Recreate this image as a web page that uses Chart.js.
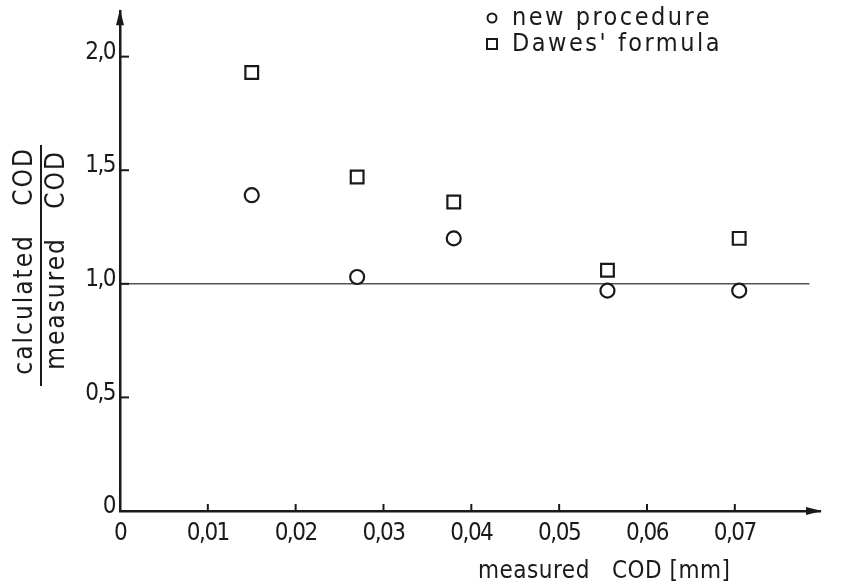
<!DOCTYPE html>
<html>
<head>
<meta charset="utf-8">
<title>calculated / measured COD</title>
<script src="https://cdn.jsdelivr.net/npm/chart.js@4.4.1/dist/chart.umd.min.js"></script>
<style>
  html, body { margin: 0; padding: 0; background: #fff; }
  #wrap { width: 843px; height: 588px; }
</style>
</head>
<body>
<div id="wrap"><canvas id="chart" width="843" height="588"></canvas></div>
<script>
// tick values and their labels (comma decimals as in the original)
var xTickValues = [0, 0.01, 0.02, 0.03, 0.04, 0.05, 0.06, 0.07];
var xTickLabels = ['0', '0,01', '0,02', '0,03', '0,04', '0,05', '0,06', '0,07'];
var yTickValues = [0, 0.5, 1, 1.5, 2];
var yTickLabels = ['0', '0,5', '1,0', '1,5', '2,0'];

// measured COD [mm] and the ratio calculated/measured
var measuredCod = [0.015, 0.027, 0.038, 0.0555, 0.0705];
var newProcedure = [1.39, 1.03, 1.20, 0.97, 0.97];
var dawesFormula = [1.93, 1.47, 1.36, 1.06, 1.20];

// reference line ratio = 1
var refLineX = [0, 0.0785];
var refLineY = [1, 1];

var INK = '#1a1a1a';
var FONT = "'DejaVu Sans Condensed', 'Liberation Sans Narrow', sans-serif";

function toPoints(xs, ys) {
  return xs.map(function(x, i) { return { x: x, y: ys[i] }; });
}

// narrow the tick lettering a bit, the original uses stencil-like narrow digits
var tightTicks = {
  id: 'tightTicks',
  beforeDraw: function(chart) { chart.ctx.letterSpacing = '-1.5px'; },
  beforeDatasetsDraw: function(chart) { chart.ctx.letterSpacing = '0px'; }
};

var decor = {
  id: 'decor',
  afterDraw: function(chart) {
    var ctx = chart.ctx;
    var xs = chart.scales.x, ys = chart.scales.y, a = chart.chartArea;
    ctx.save();
    ctx.strokeStyle = INK;
    ctx.fillStyle = INK;
    ctx.lineWidth = 2;

    // ticks point into the plot
    ys.ticks.forEach(function(t) {
      if (t.value === 0) return;
      var p = ys.getPixelForValue(t.value);
      ctx.beginPath(); ctx.moveTo(a.left, p); ctx.lineTo(a.left + 9, p); ctx.stroke();
    });
    xs.ticks.forEach(function(t) {
      if (t.value === 0) return;
      var p = xs.getPixelForValue(t.value);
      ctx.beginPath(); ctx.moveTo(p, a.bottom); ctx.lineTo(p, a.bottom - 7); ctx.stroke();
    });

    // arrow heads
    ctx.beginPath();
    ctx.moveTo(a.left, a.top - 2);
    ctx.lineTo(a.left - 4, a.top + 14);
    ctx.lineTo(a.left + 4, a.top + 14);
    ctx.closePath(); ctx.fill();
    ctx.beginPath();
    ctx.moveTo(a.right + 2, a.bottom);
    ctx.lineTo(a.right - 14, a.bottom - 4);
    ctx.lineTo(a.right - 14, a.bottom + 4);
    ctx.closePath(); ctx.fill();

    // y title as a fraction
    ctx.font = '26px ' + FONT;
    ctx.letterSpacing = '2px';
    ctx.textBaseline = 'middle';
    ctx.save();
    ctx.translate(25, 147);
    ctx.rotate(-Math.PI / 2);
    ctx.textAlign = 'right';
    ctx.fillText('calculated   COD', 0, 0);
    ctx.restore();
    ctx.save();
    ctx.translate(57, 150);
    ctx.rotate(-Math.PI / 2);
    ctx.textAlign = 'right';
    ctx.fillText('measured   COD', 0, 0);
    ctx.restore();
    ctx.lineWidth = 2;
    ctx.beginPath(); ctx.moveTo(41, 145); ctx.lineTo(41, 386); ctx.stroke();

    // x title
    ctx.font = '24px ' + FONT;
    ctx.letterSpacing = '0.5px';
    ctx.textAlign = 'left';
    ctx.fillText('measured   COD [mm]', 478, 572);

    // legend
    ctx.font = '25px ' + FONT;
    ctx.letterSpacing = '2.5px';
    var items = chart.data.datasets.filter(function(d) { return d.label; });
    items.forEach(function(d, i) {
      var y = 18 + i * 26;
      ctx.lineWidth = 2;
      ctx.beginPath();
      if (d.pointStyle === 'rect') {
        ctx.rect(487, y - 5, 10, 10);
      } else {
        ctx.arc(492, y, 4.5, 0, Math.PI * 2);
      }
      ctx.stroke();
      ctx.fillText(d.label, 512, y);
    });
    ctx.restore();
  }
};

new Chart(document.getElementById('chart'), {
  type: 'scatter',
  data: {
    datasets: [
      {
        label: 'new procedure',
        data: toPoints(measuredCod, newProcedure),
        pointStyle: 'circle',
        pointRadius: 7,
        pointBorderWidth: 2.2,
        pointBackgroundColor: '#fff',
        pointBorderColor: INK
      },
      {
        label: "Dawes' formula",
        data: toPoints(measuredCod, dawesFormula),
        pointStyle: 'rect',
        pointRadius: 9,
        pointBorderWidth: 2.2,
        pointBackgroundColor: '#fff',
        pointBorderColor: INK
      },
      {
        label: '',
        type: 'line',
        data: toPoints(refLineX, refLineY),
        borderColor: '#555',
        borderWidth: 1.5,
        pointRadius: 0,
        order: 5
      }
    ]
  },
  options: {
    responsive: false,
    animation: false,
    devicePixelRatio: 1,
    layout: { padding: { left: 70, right: 23, top: 8, bottom: 37 } },
    plugins: {
      legend: { display: false },
      tooltip: { enabled: false }
    },
    scales: {
      x: {
        type: 'linear',
        min: 0,
        max: 0.0797,
        afterBuildTicks: function(scale) {
          scale.ticks = xTickValues.map(function(v) { return { value: v }; });
        },
        afterFit: function(scale) {
          scale.height = 40;
          scale.paddingLeft = 0; scale.paddingRight = 0;
        },
        grid: { display: false, drawTicks: false },
        border: { display: true, color: INK, width: 2.5 },
        ticks: {
          padding: 8,
          color: INK,
          maxRotation: 0,
          autoSkip: false,
          font: { family: FONT, size: 24 },
          callback: function(v) { return xTickLabels[xTickValues.indexOf(v)]; }
        }
      },
      y: {
        type: 'linear',
        min: 0,
        max: 2.2,
        afterBuildTicks: function(scale) {
          scale.ticks = yTickValues.map(function(v) { return { value: v }; });
        },
        afterFit: function(scale) {
          scale.width = 50;
          scale.paddingTop = 0; scale.paddingBottom = 0;
        },
        grid: { display: false, drawTicks: false },
        border: { display: true, color: INK, width: 2.5 },
        ticks: {
          padding: 5,
          labelOffset: -4,
          color: INK,
          autoSkip: false,
          font: { family: FONT, size: 24 },
          callback: function(v) { return yTickLabels[yTickValues.indexOf(v)]; }
        }
      }
    }
  },
  plugins: [tightTicks, decor]
});
</script>
</body>
</html>
